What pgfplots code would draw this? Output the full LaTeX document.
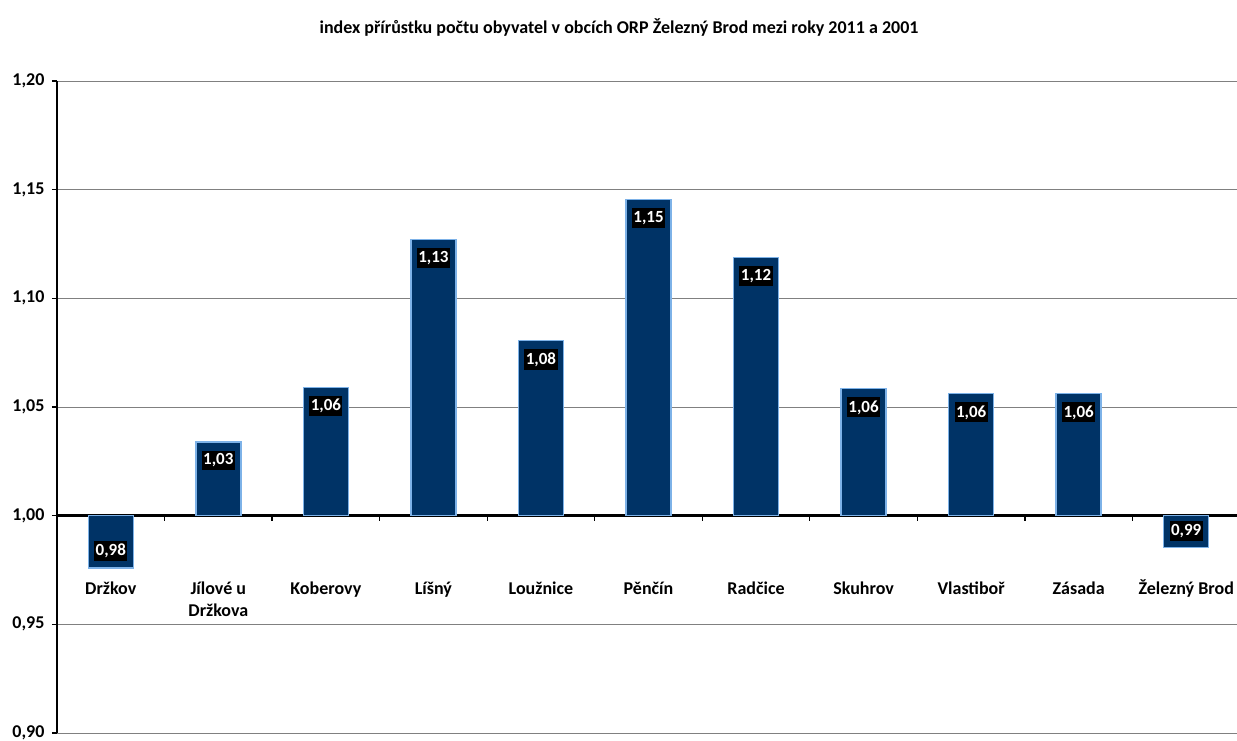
\documentclass[border=0pt]{standalone}
\usepackage{fontspec}
\setmainfont{Carlito}
\usepackage{pgfplots}
\pgfplotsset{compat=1.18}
\usepackage{pgfplotstable}
\definecolor{barfill}{RGB}{0,51,102}
\definecolor{barline}{RGB}{125,178,232}
\definecolor{gridc}{RGB}{128,128,128}

% positive-index municipalities
\pgfplotstableread{
x v
1 1.034
2 1.059
3 1.127
4 1.0805
5 1.1455
6 1.1187
7 1.0584
8 1.0561
9 1.0561
}\postab
% negative-index municipalities
\pgfplotstableread{
x v
0 0.976
10 0.9853
}\negtab

\newcommand{\lblfont}{\bfseries\fontsize{18}{22}\selectfont}
\begin{document}
\begin{tikzpicture}
\begin{axis}[
  at={(57pt,7pt)}, anchor=south west,
  scale only axis, width=1183pt, height=652pt,
  xmin=-0.5, xmax=10.5, ymin=-0.1, ymax=0.2,
  axis x line*=middle, axis y line*=left,
  axis line style={-},
  x axis line style={line width=2.5pt},
  y axis line style={line width=1.2pt},
  ytick={-0.1,-0.05,0,0.05,0.1,0.15,0.2},
  minor ytick={-0.1,-0.05,0,0.05,0.1,0.15,0.2},
  yticklabels={{0,90},{0,95},{1,00},{1,05},{1,10},{1,15},{1,20}},
  ymajorgrids, grid style={gridc, line width=0.9pt},
  xtick={0,1,2,3,4,5,6,7,8,9,10},
  xticklabels={Držkov,{Jílové u\\Držkova},Koberovy,Líšný,Loužnice,Pěnčín,Radčice,Skuhrov,Vlastiboř,Zásada,Železný Brod},
  minor xtick={-0.5,0.5,1.5,2.5,3.5,4.5,5.5,6.5,7.5,8.5,9.5,10.5},
  tick align=outside, major tick length=0pt, minor tick length=5pt,
  tick style={black, line width=1.2pt},
  typeset ticklabels with strut,
  xticklabel style={align=center, yshift=-60pt, font=\lblfont},
  yticklabel style={font=\lblfont, xshift=-9pt},
  ybar, bar width=45pt,
  point meta=explicit,
  nodes near coords={\pgfmathprintnumber[fixed,fixed zerofill,precision=2,use comma,assume math mode=true]{\pgfplotspointmeta}},
  nodes near coords style={fill=black, text=white, inner xsep=1.5pt, inner ysep=3pt, font=\bfseries\fontsize{17}{20}\selectfont},
]
\addplot[bar shift=0pt, fill=barfill, draw=barline, line width=1.5pt,
  nodes near coords align={below}, nodes near coords style={yshift=-8pt}]
  table[x=x, y expr=\thisrow{v}-1, meta=v] {\postab};
\addplot[bar shift=0pt, fill=barfill, draw=barline, line width=1.5pt,
  nodes near coords align={above}, nodes near coords style={yshift=6pt}]
  table[x=x, y expr=\thisrow{v}-1, meta=v] {\negtab};
\end{axis}
\node[font=\bfseries\fontsize{18}{22}\selectfont] at (619pt,712pt) {index přírůstku počtu obyvatel v obcích ORP Železný Brod mezi roky 2011 a 2001};
\pgfresetboundingbox
\useasboundingbox (0,0) rectangle (1237pt,740pt);
\end{tikzpicture}
\end{document}
